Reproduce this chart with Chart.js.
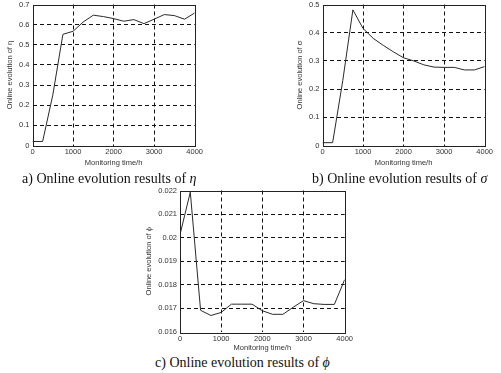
<!DOCTYPE html>
<html>
<head>
<meta charset="utf-8">
<script src="https://cdn.jsdelivr.net/npm/chart.js@4.4.1/dist/chart.umd.min.js"></script>
<style>
  body { margin: 0; background: #fff; width: 501px; height: 373px; position: relative; overflow: hidden; }
  .box { position: absolute; }
  .caption { position: absolute; font-family: "Liberation Serif", "Times New Roman", serif; font-size: 14px; line-height: 16px; color: #111; white-space: nowrap; }
  .caption i { font-style: italic; }
</style>
</head>
<body>
<div class="box" id="boxA" style="left:0px; top:-3.5px; width:205px; height:170.5px;"><canvas id="chartA"></canvas></div>
<div class="box" id="boxB" style="left:290px; top:-3.5px; width:205px; height:170.5px;"><canvas id="chartB"></canvas></div>
<div class="box" id="boxC" style="left:140px; top:183px; width:215px; height:169px;"><canvas id="chartC"></canvas></div>

<div class="caption" style="left:22px; top:171px;">a) Online evolution results of <i>η</i></div>
<div class="caption" style="left:312px; top:171px;">b) Online evolution results of <i>σ</i></div>
<div class="caption" style="left:155px; top:355px;">c) Online evolution results of <i>ϕ</i></div>

<script>
// Monitoring time (h)
const timeHours = [0, 250, 500, 750, 1000, 1250, 1500, 1750, 2000, 2250, 2500, 2750, 3000, 3250, 3500, 3750, 4000];

// a) eta
const etaValues = [0.02, 0.02, 0.25, 0.552, 0.567, 0.613, 0.647, 0.64, 0.63, 0.617, 0.625, 0.605, 0.627, 0.65, 0.645, 0.627, 0.658];
// b) sigma
const sigmaValues = [0.01, 0.01, 0.23, 0.481, 0.415, 0.38, 0.355, 0.332, 0.311, 0.3, 0.286, 0.278, 0.277, 0.277, 0.268, 0.268, 0.28];
// c) phi
const phiValues = [0.02013, 0.02193, 0.01692, 0.0167, 0.01683, 0.01718, 0.01718, 0.01718, 0.0169, 0.01675, 0.01675, 0.01705, 0.01733, 0.0172, 0.01717, 0.01717, 0.01822];

const xLimits = [0, 4000, 1000];
const etaLimits = [0, 0.7, 0.1];
const sigmaLimits = [0, 0.5, 0.1];
const phiLimits = [0.016, 0.022, 0.001];

const xTitle = 'Monitoring time/h';
const yTitles = ['Online evolution of η', 'Online evolution of σ', 'Online evolution of ϕ'];

const tickFont = { family: 'Liberation Sans, Arial, sans-serif', size: 7.5 };
const textColor = '#333';

const boxPlugin = {
    id: 'boxPlugin',
    afterDraw(chart) {
        const a = chart.chartArea;
        const ctx = chart.ctx;
        ctx.save();
        ctx.strokeStyle = '#222';
        ctx.lineWidth = 1;
        ctx.strokeRect(Math.round(a.left) + 0.5, Math.round(a.top) + 0.5, Math.round(a.right - a.left), Math.round(a.bottom - a.top));
        ctx.restore();
    }
};

function gridColor(min, max) {
    return (c) => {
        const v = c.tick ? c.tick.value : null;
        if (v === null) return 'transparent';
        if (Math.abs(v - min) < 1e-9 || Math.abs(v - max) < 1e-9) return 'transparent';
        return '#111';
    };
}

function makeChart(id, values, yLim, yTitle, yWidth, xHeight, pad, titlePad) {
    const ctx = document.getElementById(id).getContext('2d');
    const points = timeHours.map((t, i) => ({ x: t, y: values[i] }));
    return new Chart(ctx, {
        type: 'line',
        data: {
            datasets: [{
                data: points,
                borderColor: '#2a2a2a',
                borderWidth: 1,
                pointRadius: 0,
                tension: 0,
                fill: false
            }]
        },
        options: {
            responsive: true,
            maintainAspectRatio: false,
            animation: false,
            layout: { padding: pad },
            plugins: { legend: { display: false }, tooltip: { enabled: false } },
            scales: {
                x: {
                    type: 'linear',
                    min: xLimits[0], max: xLimits[1],
                    afterFit: (s) => { s.height = xHeight; },
                    ticks: {
                        stepSize: xLimits[2], color: textColor, font: tickFont, padding: 2,
                        maxRotation: 0, autoSkip: false,
                        callback: v => String(v)
                    },
                    grid: { color: gridColor(xLimits[0], xLimits[1]), lineWidth: 1, drawTicks: false },
                    border: { display: false, dash: [4, 3] },
                    title: { display: true, text: xTitle, color: textColor, font: tickFont, padding: { top: 1, bottom: 0 } }
                },
                y: {
                    min: yLim[0], max: yLim[1],
                    afterFit: (s) => { s.width = yWidth; },
                    ticks: {
                        stepSize: yLim[2], color: textColor, font: tickFont, padding: 3,
                        callback: v => String(Number(v.toFixed(4)))
                    },
                    grid: { color: gridColor(yLim[0], yLim[1]), lineWidth: 1, drawTicks: false },
                    border: { display: false, dash: [4, 3] },
                    title: { display: true, text: yTitle, color: textColor, font: tickFont, padding: { top: titlePad, bottom: 2 } }
                }
            }
        },
        plugins: [boxPlugin]
    });
}

makeChart('chartA', etaValues, etaLimits, yTitles[0], 32.5, 22, { top: 1, right: 6.5, left: 0, bottom: 0 }, 5);
makeChart('chartB', sigmaValues, sigmaLimits, yTitles[1], 32.5, 22, { top: 1, right: 7, left: 0, bottom: 0 }, 5);
makeChart('chartC', phiValues, phiLimits, yTitles[2], 40, 20, { top: 1.5, right: 9.5, left: 0, bottom: 0 }, 4);
</script>
</body>
</html>
